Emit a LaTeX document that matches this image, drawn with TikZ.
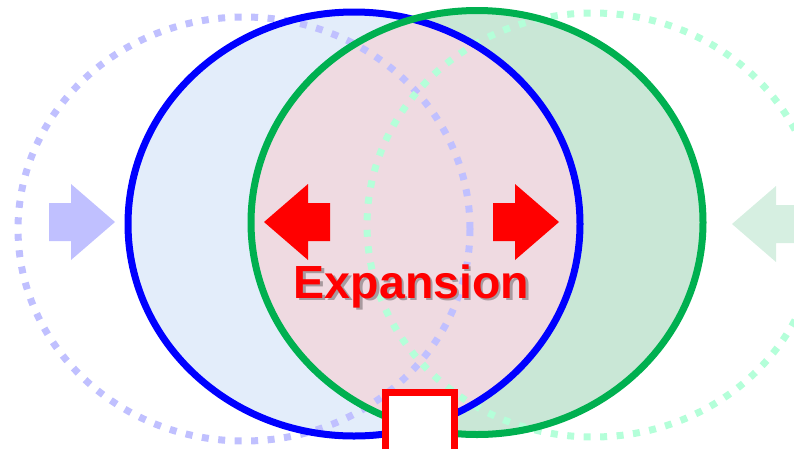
\documentclass[tikz,border=0pt]{standalone}
\usepackage{fontspec}
\setsansfont{Liberation Sans}
\definecolor{blueedge}{HTML}{0000FF}
\definecolor{greenedge}{HTML}{00B050}
\definecolor{bluefill}{HTML}{E3EDFA}
\definecolor{greenfill}{HTML}{C9E7D6}
\definecolor{overlapfill}{HTML}{EFDAE1}
\definecolor{bluefaint}{HTML}{C0C0FF}
\definecolor{greenfaint}{HTML}{B4FFD9}
\definecolor{greenpale}{HTML}{D6EFE1}
\definecolor{shadowgray}{HTML}{A89A9F}
\tikzset{
  ring/.style = {line width=7pt},
  faint_ring/.style = {line width=7pt, dash pattern=on 7pt off 9.5pt},
  big_label/.style = {font=\sffamily\bfseries\fontsize{46.5}{50}\selectfont, inner sep=0, anchor=base}
}
% block arrow: tip x, tip y, direction (1 = right, -1 = left), colour
\newcommand{\blockarrow}[4]{
  \fill[#4, shift={(#1,#2)}, xscale=#3]
    (0,0) -- (-44,-38) -- (-44,-19) -- (-66,-19) -- (-66,19) -- (-44,19) -- (-44,38) -- cycle;
}
% text with a grey drop shadow behind it
\newcommand{\shadowed}[1]{%
  \makebox[0pt][l]{\hspace{2.5pt}\raisebox{-2.5pt}{\color{shadowgray}#1}}#1}
\begin{document}
\begin{tikzpicture}[x=1pt, y=-1pt]
    \useasboundingbox (0,0) rectangle (794,448);

    % Fills, with the overlap on top
    \fill[bluefill] (354,224) ellipse [x radius=226, y radius=212];
    \fill[greenfill] (477,222.5) ellipse [x radius=226, y radius=212];
    \begin{scope}
        \clip (354,224) ellipse [x radius=226, y radius=212];
        \fill[overlapfill] (477,222.5) ellipse [x radius=226, y radius=212];
    \end{scope}

    % Former outlines
    \draw[faint_ring, bluefaint] (244,229) ellipse [x radius=226, y radius=212];
    \draw[faint_ring, greenfaint] (593,225) ellipse [x radius=226, y radius=212];

    % Current outlines
    \draw[ring, blueedge] (354,224) ellipse [x radius=226, y radius=212];
    \draw[ring, greenedge] (477,222.5) ellipse [x radius=226, y radius=212];

    % Arrows
    \blockarrow{115}{222}{1}{bluefaint}
    \blockarrow{732}{224}{-1}{greenpale}
    \blockarrow{264}{222}{-1}{red}
    \blockarrow{559}{222}{1}{red}

    % Label
    \node[big_label, text=red] (expansion) at (411.5,298) {\shadowed{Expansion}};

    % Gap at the bottom
    \node[draw=red, line width=7pt, fill=white, outer sep=0, minimum width=69pt,
          minimum height=80pt, anchor=north] (gap) at (420,392.5) {};
\end{tikzpicture}
\end{document}
